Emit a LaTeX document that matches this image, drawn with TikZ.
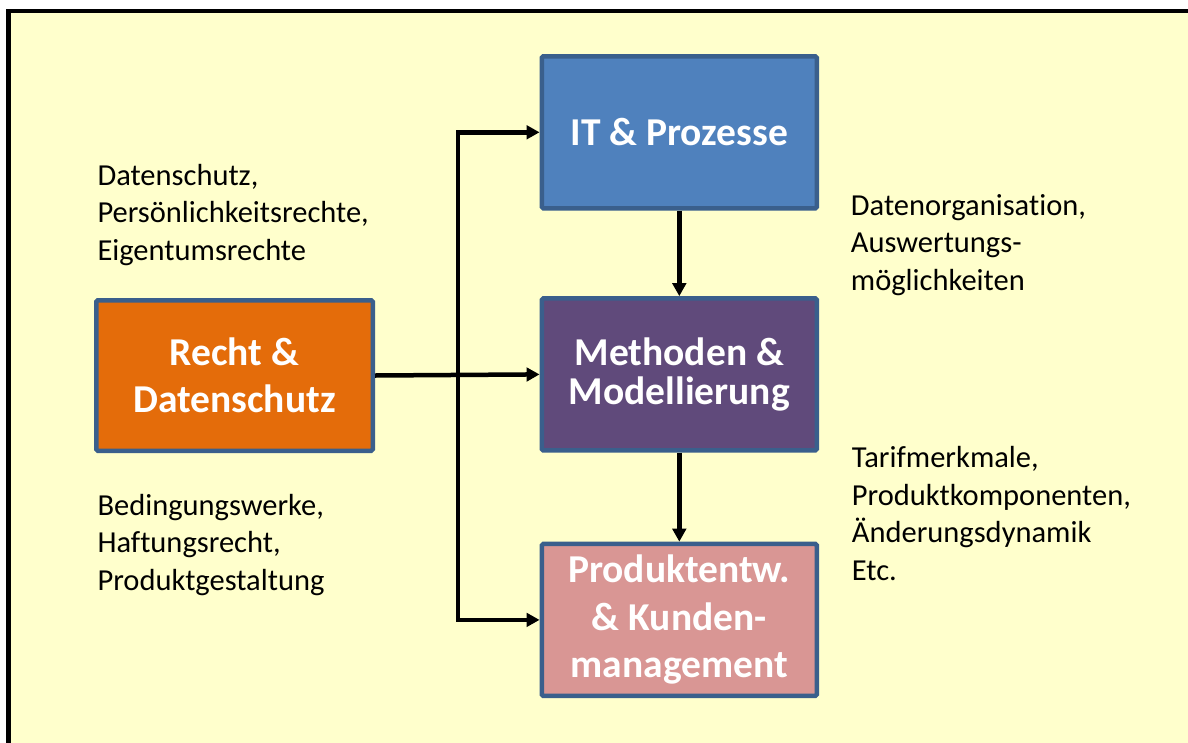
\documentclass[tikz,border=0pt]{standalone}
\usepackage{fontspec}
\setmainfont{Carlito}[Ligatures=NoCommon]
\usetikzlibrary{arrows.meta}
\definecolor{bg}{HTML}{FFFFCC}
\definecolor{boxline}{HTML}{3A5F8C}
\definecolor{itblue}{HTML}{4F81BD}
\definecolor{rorange}{HTML}{E46C0A}
\definecolor{mpurple}{HTML}{604A7B}
\definecolor{ppink}{HTML}{D99694}
\begin{document}
\begin{tikzpicture}[x=1pt,y=-1pt,
  box/.style={draw=boxline, line width=4.5pt, rounded corners=1.5pt,
    minimum width=275pt, minimum height=152pt, inner sep=0pt,
    text=white, align=center},
  boxfont/.style={font=\fontsize{39.5}{#1}\selectfont\bfseries},
  txt/.style={font=\fontsize{30.5}{37.5}\selectfont, align=left, inner sep=0pt, anchor=base west},
  arr/.style={line width=4.5pt, -{Triangle[length=13pt,width=13.5pt]}}]
\useasboundingbox (0,0) rectangle (1188,742);
\clip (0,0) rectangle (1188,742);
\fill[white] (0,0) rectangle (1188,742);
\draw[line width=4.5pt, fill=bg] (8.5,11) rectangle (1210,760);

\node[box, boxfont=47.5, fill=itblue] (it) at (679.3,132.3) {IT \& Prozesse};
\node[box, boxfont=47.5, fill=rorange, minimum width=276.5pt, minimum height=150.5pt] (recht) at (234.5,375.5) {Recht \&\\Datenschutz};
\node[box, boxfont=38.5, fill=mpurple] (meth) at (679.3,374.4) {Methoden \&\\Modellierung};
\node[box, boxfont=47.5, fill=ppink] (prod) at (679.3,619.9) {Produktentw.\\\& Kunden-\\management};

\node[txt] (t1) at (97.3,260) {Datenschutz,\\Persönlichkeitsrechte,\\Eigentumsrechte};
\node[txt] (t2) at (97.3,590) {Bedingungswerke,\\Haftungsrecht,\\Produktgestaltung};
\node[txt] (t3) at (850.7,290) {Datenorganisation,\\Auswertungs-\\möglichkeiten};
\node[txt] (t4) at (851.7,580) {Tarifmerkmale,\\Produktkomponenten,\\Änderungsdynamik\\Etc.};

\coordinate (j) at (458,375);
\draw[arr] (recht.east) -- (meth.west);
\draw[arr] (j) |- (it.west);
\draw[arr] (j) |- (prod.west);
\draw[arr] (it.south) -- (meth.north);
\draw[arr] (meth.south) -- (prod.north);
\end{tikzpicture}
\end{document}
